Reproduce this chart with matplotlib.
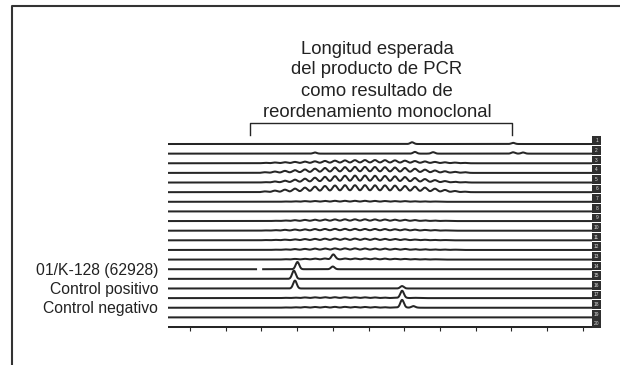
import numpy as np
import matplotlib.pyplot as plt
from matplotlib.patches import Rectangle
from matplotlib.lines import Line2D

plt.rcParams['font.family'] = ['Liberation Sans', 'DejaVu Sans']

# capillary lanes, top to bottom, and size-axis ticks
lanes = list(range(1, 21))
tick_pos = [1, 2, 3, 4, 5, 6, 7, 8, 9, 10, 11, 12]
x_start, x_end = 0.384, 12.26

title_lines = ["Longitud esperada", "del producto de PCR",
               "como resultado de", "reordenamiento monoclonal"]
bracket_from, bracket_to = 2.68, 10.02

label_lanes = [14, 16, 18]
label_texts = ["01/K-128 (62928)", "Control positivo", "Control negativo"]

# sharp peaks (lane, position, height in lane spacings)
peak_lane = [1, 1, 2, 2, 2, 2, 2, 13, 14, 14, 15, 16, 16, 17, 18, 18]
peak_pos = [7.22, 10.05, 4.50, 7.30, 7.81, 10.05, 10.33, 5.01, 4.01, 5.00,
            3.91, 3.94, 6.94, 6.94, 6.94, 7.25]
peak_height = [0.18, 0.12, 0.12, 0.18, 0.15, 0.14, 0.12, 0.45, 0.75, 0.28,
               0.85, 0.82, 0.25, 0.75, 0.80, 0.15]

# polyclonal smear: ladder positions and heights per lane
smear_pos = [3.10, 3.38, 3.66, 3.94, 4.22, 4.50, 4.78, 5.06, 5.34, 5.62, 5.90,
             6.18, 6.46, 6.74, 7.02, 7.30, 7.58, 7.86, 8.14, 8.42, 8.70]
smear_3 = [0.05, 0.08, 0.11, 0.14, 0.17, 0.20, 0.24, 0.27, 0.30, 0.32, 0.33,
           0.33, 0.32, 0.30, 0.27, 0.23, 0.19, 0.14, 0.10, 0.07, 0.04]
smear_4 = [0.07, 0.14, 0.21, 0.28, 0.36, 0.44, 0.51, 0.56, 0.60, 0.62, 0.62,
           0.61, 0.59, 0.56, 0.51, 0.43, 0.34, 0.25, 0.17, 0.11, 0.07]
smear_5 = [0.04, 0.11, 0.19, 0.30, 0.40, 0.50, 0.59, 0.66, 0.70, 0.72, 0.72,
           0.70, 0.68, 0.64, 0.57, 0.47, 0.36, 0.25, 0.15, 0.08, 0.04]
smear_6 = [0.08, 0.16, 0.26, 0.37, 0.47, 0.57, 0.64, 0.69, 0.72, 0.72, 0.72,
           0.71, 0.70, 0.68, 0.64, 0.57, 0.47, 0.36, 0.23, 0.12, 0.05]
smear_7 = [0, 0, 0.03, 0.05, 0.07, 0.08, 0.09, 0.10, 0.10, 0.10, 0.10,
           0.09, 0.08, 0.07, 0.07, 0.05, 0.04, 0.03, 0, 0, 0]
smear_9 = [0, 0.03, 0.06, 0.09, 0.12, 0.14, 0.16, 0.17, 0.18, 0.18, 0.18,
           0.17, 0.16, 0.14, 0.13, 0.10, 0.07, 0.05, 0.03, 0, 0]
smear_10 = [0.03, 0.06, 0.09, 0.12, 0.14, 0.17, 0.18, 0.19, 0.19, 0.19, 0.18,
            0.18, 0.17, 0.15, 0.14, 0.11, 0.08, 0.06, 0.03, 0, 0]
smear_11 = [0.03, 0.05, 0.07, 0.10, 0.13, 0.15, 0.17, 0.18, 0.18, 0.18, 0.17,
            0.17, 0.15, 0.14, 0.11, 0.08, 0.06, 0.04, 0.03, 0, 0]
smear_12 = [0, 0.03, 0.06, 0.09, 0.11, 0.14, 0.15, 0.16, 0.16, 0.16, 0.15,
            0.14, 0.14, 0.12, 0.11, 0.08, 0.07, 0.05, 0.04, 0.03, 0]
smear_13 = [0, 0, 0.04, 0.07, 0.08, 0.10, 0.11, 0.11, 0.11, 0.11, 0.11,
            0.11, 0.10, 0.08, 0.07, 0.05, 0.04, 0.03, 0, 0, 0]
smear_17 = [0, 0, 0.03, 0.05, 0.07, 0.08, 0.09, 0.09, 0.09, 0.08, 0.08,
            0.07, 0.05, 0.04, 0.03, 0.03, 0, 0, 0, 0, 0]
smear_18 = [0, 0, 0.03, 0.05, 0.07, 0.08, 0.09, 0.09, 0.09, 0.08, 0.08,
            0.07, 0.05, 0.04, 0.03, 0.03, 0, 0, 0, 0, 0]

# break in the lane-14 trace
gap_lane, gap_from, gap_to = 14, 2.88, 3.02

smear = {3: smear_3, 4: smear_4, 5: smear_5, 6: smear_6, 7: smear_7,
         9: smear_9, 10: smear_10, 11: smear_11, 12: smear_12,
         13: smear_13, 17: smear_17, 18: smear_18}

ink = '#262626'

fig = plt.figure(figsize=(6.2, 3.65), dpi=100)
ax = fig.add_axes([168/620, 30/365, 424/620, 205/365])
ax.set_xlim(x_start, x_end)
ax.set_ylim(20.83, -0.454)

xs = np.linspace(x_start, x_end, 4000)

def bumps(pos, hts, width):
    s = np.zeros_like(xs)
    for p, h in zip(pos, hts):
        s += h*np.exp(-0.5*((xs - p)/width)**2)
    return s

for lane in lanes:
    sig = np.zeros_like(xs)
    if lane in smear:
        sig += bumps(smear_pos, smear[lane], 0.07)
    pp = [p for l, p in zip(peak_lane, peak_pos) if l == lane]
    ph = [h for l, h in zip(peak_lane, peak_height) if l == lane]
    sig += bumps(pp, ph, 0.05)
    y = lane - sig
    if lane == gap_lane:
        y[(xs > gap_from) & (xs < gap_to)] = np.nan
    ax.plot(xs, y, color=ink, lw=1.45, solid_capstyle='butt')

    # lane number box at the right end
    ax.add_patch(Rectangle((x_end, lane - 0.78), 0.26, 0.9, facecolor='#2f2f2f',
                           edgecolor='none', clip_on=False))
    ax.text(x_end + 0.13, lane - 0.33, str(lane), fontsize=3.5, color='#dddddd',
            ha='center', va='center', clip_on=False)

for lane, txt in zip(label_lanes, label_texts):
    ax.annotate(txt, xy=(x_start, lane), xytext=(-10, -5.5), textcoords='offset pixels',
                ha='right', va='baseline', fontsize=11.3, color='#222222',
                annotation_clip=False)

# bracket over the expected monoclonal range
ax.plot([bracket_from, bracket_from, bracket_to, bracket_to],
        [0.07, -1.18, -1.18, 0.07], color=ink, lw=1.0, clip_on=False)

ax.set_xticks(tick_pos)
ax.set_yticks([])
ax.tick_params(axis='x', direction='out', length=3, width=0.8, color=ink,
               labelbottom=False)
for s in ax.spines.values():
    s.set_visible(False)
ax.spines['bottom'].set_position(('data', 20))
ax.patch.set_alpha(0)

for i, line in enumerate(title_lines):
    fig.text(377/620, 1 - (53.5 + 21*i)/365, line, ha='center', va='baseline',
             fontsize=13.3, color='#222222')

# outer frame (top and left edges only)
fig.add_artist(Line2D([12/620, 12/620, 1.0], [0.0, 1 - 6/365, 1 - 6/365],
                      lw=1.5, color='#333333'))

fig.savefig('out.png', dpi=100)
